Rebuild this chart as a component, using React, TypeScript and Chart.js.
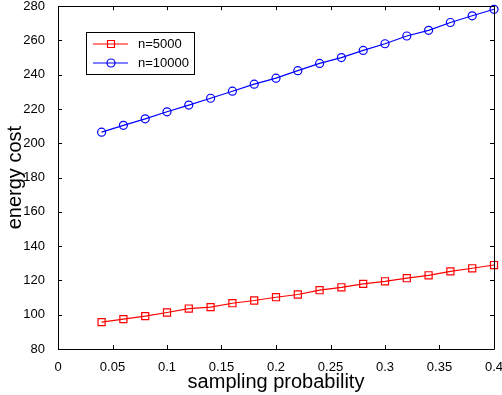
import React, { useEffect, useRef } from "react";
import { Chart, registerables } from "chart.js";

Chart.register(...registerables);

const xValues = [0.04, 0.06, 0.08, 0.1, 0.12, 0.14, 0.16, 0.18, 0.2, 0.22, 0.24, 0.26, 0.28, 0.3, 0.32, 0.34, 0.36, 0.38, 0.4];
const n5000 = [95.7, 97.4, 99.2, 101.3, 103.6, 104.4, 106.7, 108.3, 110.2, 111.8, 114.3, 116, 118, 119.5, 121.3, 123, 125.3, 127.1, 129];
const n10000 = [206.5, 210.5, 214.3, 218.4, 222.3, 226.3, 230.4, 234.5, 238, 242.4, 246.6, 250, 254.2, 258.1, 262.6, 265.9, 270.5, 274.4, 278.2];
const xTicks = [0, 0.05, 0.1, 0.15, 0.2, 0.25, 0.3, 0.35, 0.4];
const yTicks = [80, 100, 120, 140, 160, 180, 200, 220, 240, 260, 280];
const seriesLabels = ["n=5000", "n=10000"];
const seriesColors = ["#ff0000", "#0000ff"];
const seriesMarkers = ["rect", "circle"];

const FONT = "'Liberation Sans', Arial, Helvetica, sans-serif";

const matlabAxes = {
  id: "matlabAxes",
  afterDatasetsDraw(chart: any) {
    const { ctx, chartArea } = chart;
    const { left, right, top, bottom } = chartArea;
    const xs = chart.scales.x;
    const ys = chart.scales.y;
    ctx.save();
    ctx.strokeStyle = "#000";
    ctx.lineWidth = 1;
    ctx.beginPath();
    ctx.rect(Math.round(left) + 0.5, Math.round(top) + 0.5, Math.round(right - left), Math.round(bottom - top));
    ctx.stroke();
    const tl = 4;
    ctx.beginPath();
    xTicks.forEach((v) => {
      const px = Math.round(xs.getPixelForValue(v)) + 0.5;
      ctx.moveTo(px, bottom);
      ctx.lineTo(px, bottom - tl);
      ctx.moveTo(px, top);
      ctx.lineTo(px, top + tl);
    });
    yTicks.forEach((v) => {
      const py = Math.round(ys.getPixelForValue(v)) + 0.5;
      ctx.moveTo(left, py);
      ctx.lineTo(left + tl, py);
      ctx.moveTo(right, py);
      ctx.lineTo(right - tl, py);
    });
    ctx.stroke();

    // legend
    const bx = 86.5, by = 32.5, bw = 108, bh = 42;
    ctx.fillStyle = "#fff";
    ctx.fillRect(bx, by, bw, bh);
    ctx.strokeStyle = "#000";
    ctx.strokeRect(bx, by, bw, bh);
    const rows = [44, 63];
    ctx.font = "13px " + FONT;
    ctx.textBaseline = "middle";
    ctx.textAlign = "left";
    seriesLabels.forEach((lab, i) => {
      const y = rows[i];
      ctx.strokeStyle = seriesColors[i];
      ctx.lineWidth = 1.2;
      ctx.beginPath();
      ctx.moveTo(93, y);
      ctx.lineTo(128, y);
      ctx.stroke();
      ctx.beginPath();
      if (seriesMarkers[i] === "rect") {
        ctx.rect(110.5 - 3.5 + 0.5, y - 3.5, 7, 7);
      } else {
        ctx.arc(111, y, 4, 0, Math.PI * 2);
      }
      ctx.stroke();
      ctx.fillStyle = "#000";
      ctx.fillText(lab, 138, y + 0.5);
    });
    ctx.restore();
  },
};

export default function App() {
  const ref = useRef<HTMLCanvasElement>(null);
  useEffect(() => {
    const canvas = ref.current;
    if (!canvas) return;
    const datasets = [n5000, n10000].map((vals, i) => ({
      label: seriesLabels[i],
      data: xValues.map((x, j) => ({ x, y: vals[j] })),
      borderColor: seriesColors[i],
      backgroundColor: "rgba(0,0,0,0)",
      borderWidth: 1.2,
      pointStyle: seriesMarkers[i] as any,
      pointRadius: seriesMarkers[i] === "rect" ? 5 : 4,
      pointBorderWidth: 1.2,
      pointBorderColor: seriesColors[i],
      pointBackgroundColor: "rgba(0,0,0,0)",
      tension: 0,
      clip: false as any,
    }));
    const chart = new Chart(canvas, {
      type: "line",
      data: { datasets },
      plugins: [matlabAxes],
      options: {
        animation: false,
        responsive: false,
        maintainAspectRatio: false,
        layout: { padding: { top: 5, right: 8, left: 0, bottom: 0 } },
        plugins: { legend: { display: false }, tooltip: { enabled: false } },
        scales: {
          x: {
            type: "linear",
            min: 0,
            max: 0.4,
            grid: { display: false },
            border: { display: false },
            afterBuildTicks: (s: any) => {
              s.ticks = xTicks.map((v) => ({ value: v }));
            },
            afterFit: (s: any) => {
              s.height = 46;
              s.paddingLeft = 0;
              s.paddingRight = 0;
            },
            ticks: {
              padding: 3,
              color: "#000",
              font: { family: FONT, size: 13 },
              maxRotation: 0,
              autoSkip: false,
              callback: (v: any) => String(Number(Number(v).toFixed(2))),
            },
            title: {
              display: true,
              text: "sampling probability",
              color: "#000",
              font: { family: FONT, size: 20 },
              padding: { top: 0, bottom: 1 },
            },
          },
          y: {
            type: "linear",
            min: 80,
            max: 280,
            grid: { display: false },
            border: { display: false },
            afterBuildTicks: (s: any) => {
              s.ticks = yTicks.map((v) => ({ value: v }));
            },
            afterFit: (s: any) => {
              s.width = 58;
              s.paddingTop = 0;
              s.paddingBottom = 0;
            },
            ticks: {
              padding: 5,
              color: "#000",
              font: { family: FONT, size: 13 },
              autoSkip: false,
            },
            title: {
              display: true,
              text: "energy cost",
              color: "#000",
              font: { family: FONT, size: 20 },
              padding: { top: 3, bottom: 0 },
            },
          },
        },
      },
    });
    return () => chart.destroy();
  }, []);
  return (
    <div style={{ position: "absolute", left: 0, top: 0, width: 502, height: 395, background: "#fff" }}>
      <canvas ref={ref} width={502} height={395} style={{ display: "block" }} />
    </div>
  );
}
